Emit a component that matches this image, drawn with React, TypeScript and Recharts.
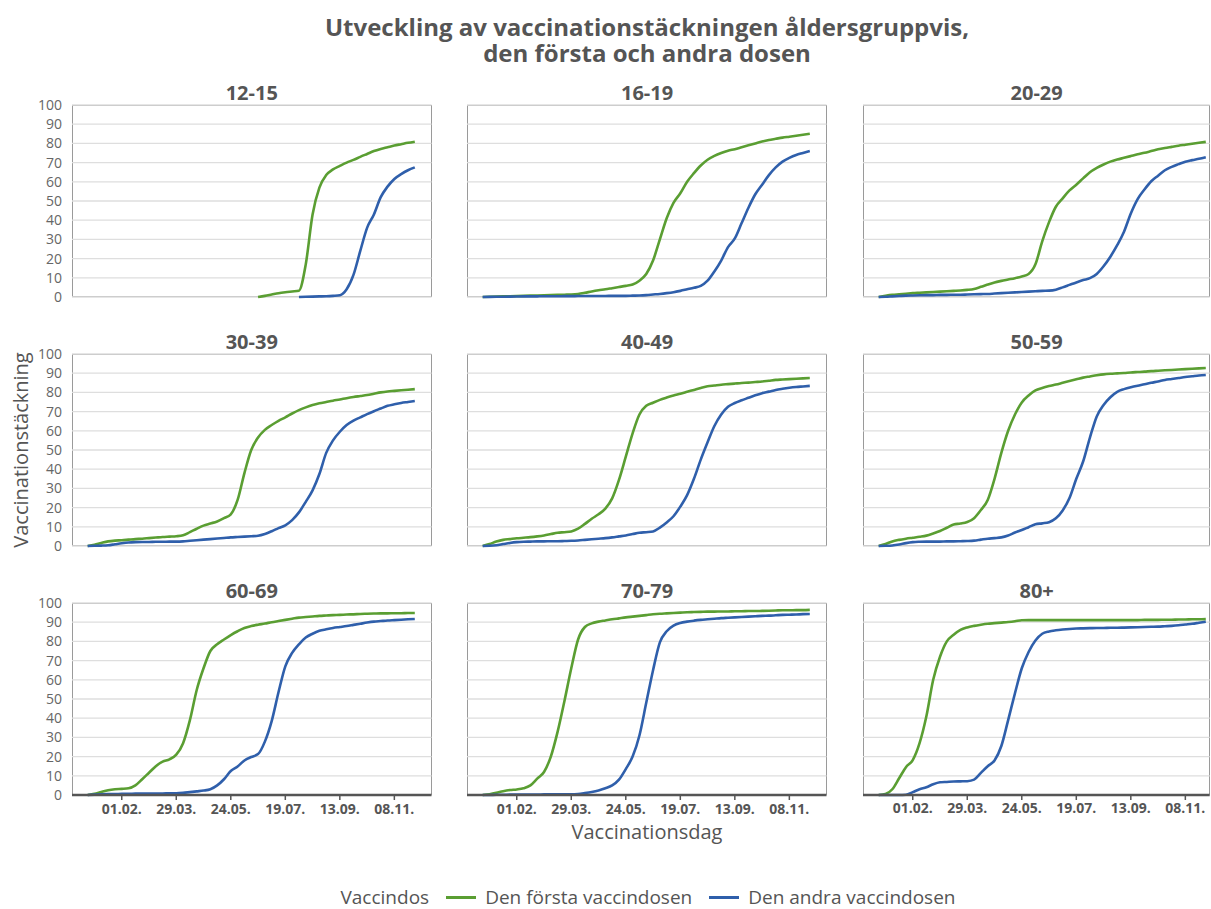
import React from 'react';
import { LineChart, Line, XAxis, YAxis, CartesianGrid } from 'recharts';

// weekly reporting days (Mondays), 28.12.2020 - 29.11.2021
const weeks = [
  '28.12.', '04.01.', '11.01.', '18.01.', '25.01.', '01.02.', '08.02.', '15.02.', '22.02.', '01.03.',
  '08.03.', '15.03.', '22.03.', '29.03.', '05.04.', '12.04.', '19.04.', '26.04.', '03.05.', '10.05.',
  '17.05.', '24.05.', '31.05.', '07.06.', '14.06.', '21.06.', '28.06.', '05.07.', '12.07.', '19.07.',
  '26.07.', '02.08.', '09.08.', '16.08.', '23.08.', '30.08.', '06.09.', '13.09.', '20.09.', '27.09.',
  '04.10.', '11.10.', '18.10.', '25.10.', '01.11.', '08.11.', '15.11.', '22.11.', '29.11.',
];
const tickLabels = ['01.02.', '29.03.', '24.05.', '19.07.', '13.09.', '08.11.'];
const yTicks = [0, 10, 20, 30, 40, 50, 60, 70, 80, 90, 100];

const n = null;

const first12_15 = [
  n, n, n, n, n, n, n, n, n, n, n, n, n, n, n, n, n, n, n, n, n, n, n, n, n,
  0, 0.6, 1.3, 2, 2.5, 2.9, 3.3, 17, 43, 57, 63.5, 66.5, 68.3, 70, 71.4,
  73, 74.5, 76, 77.1, 78, 78.9, 79.6, 80.3, 80.9,
];
const second12_15 = [
  n, n, n, n, n, n, n, n, n, n, n, n, n, n, n, n, n, n, n, n, n, n, n, n, n,
  n, n, n, n, n, n, 0, 0.1, 0.2, 0.3, 0.4, 0.6, 0.9, 4, 11.5,
  24, 36, 43, 52, 57.5, 61.5, 64, 66, 67.5,
];

const first16_19 = [
  0, 0.1, 0.2, 0.3, 0.4, 0.5, 0.6, 0.7, 0.8, 0.9,
  1, 1.1, 1.2, 1.3, 1.6, 2.2, 2.9, 3.5, 4, 4.6,
  5.2, 5.8, 6.5, 8.5, 12, 19, 30, 41, 49, 54,
  60, 64.5, 68.5, 71.5, 73.5, 75, 76.2, 77, 78, 79,
  80, 81, 81.8, 82.4, 83, 83.5, 84, 84.5, 85,
];
const second16_19 = [
  0, 0.05, 0.1, 0.15, 0.2, 0.25, 0.3, 0.3, 0.35, 0.4,
  0.4, 0.4, 0.45, 0.45, 0.5, 0.5, 0.5, 0.55, 0.55, 0.6,
  0.6, 0.6, 0.7, 0.8, 1, 1.3, 1.6, 2, 2.5, 3.2,
  4, 4.8, 5.8, 8.5, 13.3, 19, 26, 30.5, 38.5, 46.5,
  53.5, 58.5, 63.5, 67.5, 70.5, 72.5, 74, 75, 76,
];

const first20_29 = [
  0, 0.6, 1.1, 1.4, 1.7, 2, 2.2, 2.4, 2.6, 2.8,
  3, 3.2, 3.4, 3.7, 4.2, 5.3, 6.5, 7.6, 8.4, 9.1,
  9.8, 10.7, 12, 17, 29, 39, 47, 51.4, 55.5, 58.5,
  61.8, 65, 67.2, 69, 70.5, 71.6, 72.5, 73.4, 74.3, 75.1,
  76, 76.9, 77.6, 78.2, 78.8, 79.3, 79.8, 80.3, 80.8,
];
const second20_29 = [
  0, 0.1, 0.3, 0.5, 0.7, 0.8, 0.9, 1, 1, 1.1,
  1.1, 1.2, 1.2, 1.3, 1.4, 1.5, 1.6, 1.8, 2, 2.2,
  2.4, 2.6, 2.8, 3, 3.2, 3.3, 3.8, 5, 6.3, 7.6,
  8.8, 9.8, 12, 16, 21, 27, 34, 43.5, 51, 56,
  60.3, 63.2, 66, 67.8, 69.2, 70.5, 71.3, 72, 72.8,
];

const first30_39 = [
  0, 0.7, 1.6, 2.4, 2.8, 3, 3.3, 3.6, 3.8, 4.1,
  4.4, 4.7, 4.9, 5.1, 5.6, 7.2, 9, 10.6, 11.7, 12.8,
  14.5, 16.5, 24, 38, 50, 56.5, 60.5, 63, 65.2, 67,
  69, 70.8, 72.2, 73.4, 74.3, 75, 75.7, 76.3, 77, 77.6,
  78.1, 78.6, 79.3, 80, 80.5, 80.8, 81.1, 81.4, 81.7,
];
const second30_39 = [
  0, 0.1, 0.2, 0.4, 0.9, 1.4, 1.8, 2, 2.1, 2.1,
  2.2, 2.2, 2.3, 2.3, 2.4, 2.7, 3, 3.3, 3.6, 3.9,
  4.2, 4.5, 4.7, 4.9, 5.1, 5.3, 6.2, 7.7, 9.3, 10.8,
  13.5, 17.5, 23, 29, 37.5, 48.5, 55, 59.5, 63, 65.3,
  67, 68.7, 70.2, 71.6, 73, 73.8, 74.5, 75, 75.5,
];

const first40_49 = [
  0, 1, 2.3, 3.2, 3.6, 4, 4.3, 4.6, 5, 5.5,
  6.2, 6.9, 7.2, 7.6, 9, 11.5, 14.2, 16.5, 19.5, 24.8,
  34.4, 46.5, 58.7, 68.5, 73, 74.6, 76.1, 77.3, 78.4, 79.3,
  80.3, 81.3, 82.3, 83.2, 83.6, 84, 84.3, 84.6, 84.9, 85.1,
  85.4, 85.7, 86.1, 86.5, 86.7, 86.9, 87.1, 87.3, 87.5,
];
const second40_49 = [
  0, 0.1, 0.4, 1, 1.6, 2, 2.2, 2.3, 2.4, 2.4,
  2.5, 2.5, 2.6, 2.7, 2.9, 3.2, 3.5, 3.8, 4.1, 4.5,
  5, 5.5, 6.2, 6.9, 7.2, 7.6, 9.6, 12.3, 15.5, 20.5,
  26.5, 35, 45, 54, 62.5, 68.5, 72.5, 74.5, 75.9, 77.2,
  78.5, 79.6, 80.4, 81.3, 81.9, 82.4, 82.8, 83.1, 83.4,
];

const first50_59 = [
  0, 1, 2.4, 3.2, 3.8, 4.3, 4.8, 5.4, 6.5, 7.8,
  9.5, 11.2, 11.7, 12.5, 14.5, 18.7, 24, 35, 48.5, 60,
  68.5, 74.8, 78.4, 81, 82.3, 83.3, 84.1, 85, 85.9, 86.8,
  87.7, 88.3, 88.9, 89.4, 89.7, 89.9, 90.1, 90.4, 90.6, 90.8,
  91.1, 91.3, 91.5, 91.7, 91.9, 92.1, 92.3, 92.5, 92.7,
];
const second50_59 = [
  0, 0.1, 0.3, 0.8, 1.5, 2, 2.2, 2.3, 2.3, 2.3,
  2.4, 2.4, 2.5, 2.6, 2.8, 3.3, 3.8, 4.1, 4.5, 5.5,
  7, 8.3, 9.8, 11.3, 11.8, 12.4, 14.4, 18.5, 25, 35,
  44, 56.5, 67.5, 73.5, 77.5, 80.3, 81.7, 82.7, 83.5, 84.2,
  85, 85.7, 86.5, 87, 87.5, 88, 88.4, 88.8, 89.1,
];

const first60_69 = [
  0, 0.6, 1.6, 2.5, 3, 3.2, 3.5, 5, 8.2, 11.6,
  15, 17.4, 18.6, 21, 27, 39, 54.7, 66, 75, 78.5,
  81, 83.3, 85.3, 87, 88, 88.7, 89.3, 90, 90.6, 91.2,
  91.8, 92.4, 92.7, 93, 93.3, 93.5, 93.7, 93.8, 94, 94.1,
  94.3, 94.4, 94.5, 94.6, 94.6, 94.7, 94.7, 94.8, 94.8,
];
const second60_69 = [
  0, 0.2, 0.4, 0.5, 0.5, 0.6, 0.6, 0.7, 0.7, 0.7,
  0.8, 0.8, 0.9, 0.9, 1.1, 1.5, 1.9, 2.3, 3, 5,
  8.2, 12.5, 14.8, 18, 19.8, 21.3, 27.8, 38.5, 53.5, 67,
  74, 78.5, 82, 84, 85.5, 86.3, 87, 87.5, 88, 88.6,
  89.2, 89.8, 90.3, 90.6, 90.9, 91.1, 91.3, 91.5, 91.7,
];

const first70_79 = [
  0, 0.4, 1.1, 2, 2.6, 2.9, 3.5, 5, 8.5, 12,
  20, 33, 49, 66, 81, 87.5, 89.4, 90.3, 90.9, 91.5,
  92, 92.5, 92.9, 93.3, 93.7, 94.1, 94.4, 94.6, 94.8, 95,
  95.2, 95.3, 95.4, 95.5, 95.5, 95.6, 95.6, 95.7, 95.7, 95.8,
  95.8, 95.9, 96, 96.1, 96.2, 96.2, 96.3, 96.3, 96.4,
];
const second70_79 = [
  0, 0, 0.1, 0.1, 0.2, 0.2, 0.2, 0.2, 0.2, 0.3,
  0.3, 0.3, 0.3, 0.3, 0.5, 1, 1.6, 2.4, 3.5, 5,
  8, 13.5, 20, 31, 48, 65, 79.5, 85.3, 88.2, 89.6,
  90.3, 90.8, 91.2, 91.5, 91.8, 92.1, 92.3, 92.5, 92.7, 92.9,
  93.1, 93.3, 93.4, 93.6, 93.8, 93.9, 94, 94.2, 94.3,
];

const first80plus = [
  0, 0.5, 3, 8.7, 14.5, 18.2, 27, 41, 60, 72,
  80, 83.5, 86, 87.3, 88.1, 88.7, 89.2, 89.5, 89.8, 90.1,
  90.5, 91, 91.1, 91.1, 91.1, 91.1, 91.1, 91.1, 91.1, 91.1,
  91.1, 91.1, 91.1, 91.1, 91.1, 91.1, 91.1, 91.1, 91.1, 91.2,
  91.2, 91.2, 91.3, 91.3, 91.4, 91.4, 91.5, 91.5, 91.6,
];
const second80plus = [
  0, 0, 0, 0, 0.1, 1.5, 3, 4, 5.6, 6.6,
  6.8, 7, 7.1, 7.2, 8, 11.5, 15, 18, 25.5, 39,
  53, 66, 74.5, 80.5, 84, 85.2, 85.8, 86.2, 86.5, 86.7,
  86.8, 86.9, 87, 87, 87.1, 87.1, 87.2, 87.3, 87.4, 87.5,
  87.6, 87.7, 87.9, 88.1, 88.4, 88.8, 89.2, 89.7, 90.2,
];

const ageGroups = ['12-15', '16-19', '20-29', '30-39', '40-49', '50-59', '60-69', '70-79', '80+'];
const firstDose = [first12_15, first16_19, first20_29, first30_39, first40_49, first50_59, first60_69, first70_79, first80plus];
const secondDose = [second12_15, second16_19, second20_29, second30_39, second40_49, second50_59, second60_69, second70_79, second80plus];

const FONT = '"Open Sans", sans-serif';
const TEXT = '#555555';
const GREEN = '#5a9e32';
const BLUE = '#2f5fab';

const colLeft = [72, 467.3, 863.3];
const colRight = [431.5, 826.8, 1210];
const rowTop = [105, 354, 603];
const PLOT_H = 192;
const WEEK_PX = 6.815;
const X_MIN = -2.3;
const Y_W = 50;
const X_AXIS_H = 30;
const PAD = 10;

const tickIdx = tickLabels.map((l) => weeks.indexOf(l));

const YTick = (props: any) => (
  <text x={props.x} y={props.y} dy="0.36em" textAnchor="end" fill="#666" fontSize={14} fontFamily={FONT}>
    {props.payload.value}
  </text>
);

const XTick = (props: any) => (
  <text x={props.x} y={props.y} dy="0.75em" textAnchor="middle" fill={TEXT} fontSize={14} fontWeight={700} fontFamily={FONT}>
    {weeks[props.payload.value]}
  </text>
);

const Panel = ({ idx }: { idx: number }) => {
  const row = Math.floor(idx / 3);
  const col = idx % 3;
  const left = colLeft[col];
  const plotW = colRight[col] - left;
  const top = rowTop[row];
  const showY = col === 0;
  const showX = row === 2;
  const chartW = plotW + (showY ? Y_W : 0);
  const chartH = PLOT_H + PAD + (showX ? X_AXIS_H : PAD);
  const xMax = X_MIN + plotW / WEEK_PX;
  const first = firstDose[idx];
  const second = secondDose[idx];
  const data = weeks.map((w, i) => ({ x: i, week: w, first: first[i], second: second[i] }));

  return (
    <>
      <div
        style={{
          position: 'absolute', left: left + plotW / 2 - 100, width: 200, top: top - 25,
          textAlign: 'center', fontFamily: FONT, fontWeight: 700, fontSize: 20, lineHeight: '26px', color: TEXT,
        }}
      >
        {ageGroups[idx]}
      </div>
      <div
        style={{
          position: 'absolute', left, top, width: plotW, height: PLOT_H,
          boxSizing: 'border-box', border: '1px solid #9a9a9a',
        }}
      />
      <div style={{ position: 'absolute', left: left - (showY ? Y_W : 0), top: top - PAD }}>
        <LineChart
          width={chartW}
          height={chartH}
          data={data}
          margin={{ top: PAD, right: 0, bottom: showX ? 0 : PAD, left: 0 }}
        >
          <CartesianGrid vertical={false} stroke="#dedede" strokeWidth={1.3} />
          <XAxis
            dataKey="x"
            type="number"
            domain={[X_MIN, xMax]}
            ticks={tickIdx}
            interval={0}
            hide={!showX}
            height={X_AXIS_H}
            axisLine={{ stroke: '#555', strokeWidth: 2.5 }}
            tickLine={{ stroke: '#555', strokeWidth: 1.5 }}
            tickSize={5}
            tickMargin={3}
            tick={<XTick />}
          />
          <YAxis
            type="number"
            domain={[0, 100]}
            ticks={yTicks}
            interval={0}
            hide={!showY}
            width={Y_W}
            axisLine={false}
            tickLine={false}
            tickSize={0}
            tickMargin={10}
            tick={<YTick />}
          />
          <Line type="monotone" dataKey="first" stroke={GREEN} strokeWidth={2.6} dot={false} isAnimationActive={false} />
          <Line type="monotone" dataKey="second" stroke={BLUE} strokeWidth={2.6} dot={false} isAnimationActive={false} />
        </LineChart>
      </div>
    </>
  );
};

const LegendSwatch = ({ color }: { color: string }) => (
  <span style={{ display: 'inline-block', width: 30, height: 3, background: color, margin: '0 9px 0 17px' }} />
);

export default function App() {
  return (
    <div
      style={{
        position: 'absolute', left: 0, top: 0, width: 1211, height: 909, overflow: 'hidden',
        background: '#fff', fontFamily: FONT, color: TEXT,
      }}
    >
      <div
        style={{
          position: 'absolute', left: 0, width: 1294, top: 14, textAlign: 'center',
          fontWeight: 700, fontSize: 24, lineHeight: '26px',
        }}
      >
        Utveckling av vaccinationstäckningen åldersgruppvis,
      </div>
      <div
        style={{
          position: 'absolute', left: 0, width: 1294, top: 40, textAlign: 'center',
          fontWeight: 700, fontSize: 24, lineHeight: '26px',
        }}
      >
        den första och andra dosen
      </div>

      {ageGroups.map((g, i) => (
        <Panel key={g} idx={i} />
      ))}

      <div
        style={{
          position: 'absolute', left: 21 - 150, top: 450 - 13, width: 300, height: 26,
          textAlign: 'center', fontSize: 20, lineHeight: '26px', transform: 'rotate(-90deg)',
        }}
      >
        Vaccinationstäckning
      </div>

      <div
        style={{
          position: 'absolute', left: 647 - 150, width: 300, top: 819, textAlign: 'center',
          fontSize: 20, lineHeight: '26px',
        }}
      >
        Vaccinationsdag
      </div>

      <div
        style={{
          position: 'absolute', left: 0, width: 1296, top: 886, display: 'flex',
          justifyContent: 'center', alignItems: 'center', fontSize: 19, lineHeight: '22px',
        }}
      >
        <span>Vaccindos</span>
        <LegendSwatch color={GREEN} />
        <span>Den första vaccindosen</span>
        <LegendSwatch color={BLUE} />
        <span>Den andra vaccindosen</span>
      </div>
    </div>
  );
}
